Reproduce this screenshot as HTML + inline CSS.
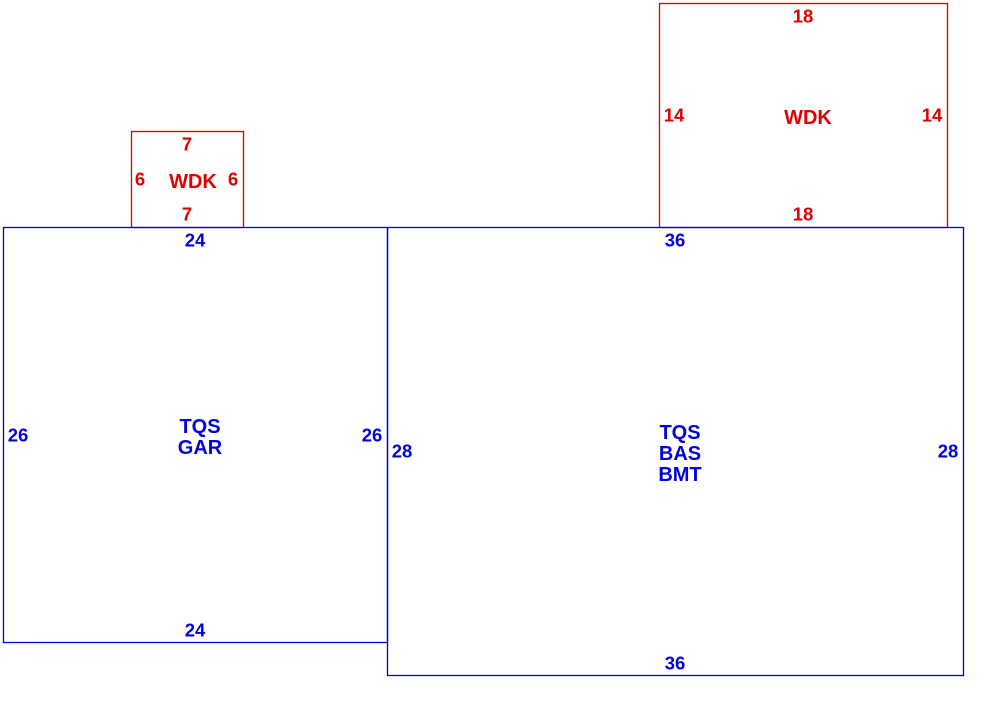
<!DOCTYPE html>
<html><head><meta charset="utf-8"><style>
html,body{margin:0;padding:0;background:#fff;}
svg{display:block;}
text{font-family:"Liberation Sans",Arial,sans-serif;font-weight:bold;font-size:18.5px;text-anchor:middle;dominant-baseline:central;}
.b{fill:#0000e0;}
.r{fill:#e00000;}
.l{font-size:20px;}
</style></head><body>
<svg width="990" height="719" viewBox="0 0 990 719">
<g fill="none" stroke-width="1.3">
<rect x="131.5" y="131.5" width="112" height="96" stroke="#e00000"/>
<rect x="659.5" y="3.5" width="288" height="224" stroke="#e00000"/>
<rect x="3.5" y="227.5" width="384" height="415" stroke="#0000e0"/>
<rect x="387.5" y="227.5" width="576" height="448" stroke="#0000e0"/>
</g>
<g class="r">
<text x="187" y="144">7</text>
<text x="187" y="214">7</text>
<text x="140" y="179">6</text>
<text x="233" y="179">6</text>
<text x="193" y="182" class="l">WDK</text>
<text x="803" y="16">18</text>
<text x="803" y="214">18</text>
<text x="674" y="115">14</text>
<text x="932" y="115">14</text>
<text x="808" y="118" class="l">WDK</text>
</g>
<g class="b">
<text x="195" y="240">24</text>
<text x="195" y="630">24</text>
<text x="18" y="435">26</text>
<text x="372" y="435">26</text>
<text x="200" y="427" class="l">TQS</text>
<text x="200" y="448" class="l">GAR</text>
<text x="675" y="240">36</text>
<text x="675" y="663">36</text>
<text x="402" y="451">28</text>
<text x="948" y="451">28</text>
<text x="680" y="433" class="l">TQS</text>
<text x="680" y="454" class="l">BAS</text>
<text x="680" y="475" class="l">BMT</text>
</g>
</svg>
</body></html>
